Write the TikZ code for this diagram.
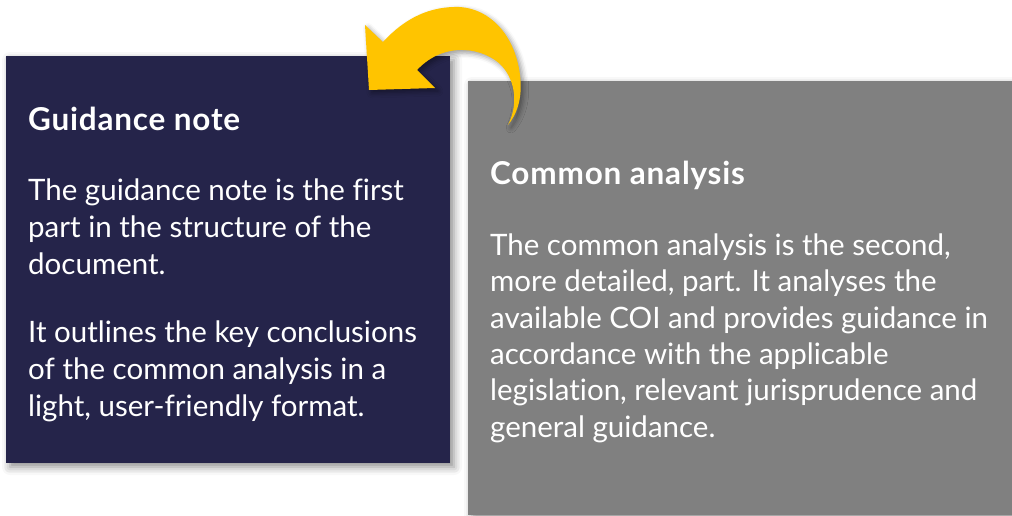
\documentclass[tikz,border=0pt]{standalone}
\usepackage{fontspec}
\setmainfont{Lato}[Ligatures=NoCommon]
\usetikzlibrary{shadows.blur}
\definecolor{navy}{HTML}{25244A}
\definecolor{boxgrey}{HTML}{808080}
\definecolor{arrowyellow}{HTML}{FFC400}
\tikzset{
  panel/.style={blur shadow={shadow xshift=4pt, shadow yshift=-4pt, shadow blur radius=8pt, shadow opacity=45}},
  headtxt/.style={anchor=base west, inner sep=0pt, text=white, font=\fontsize{31.5}{37}\selectfont\bfseries\addfontfeature{LetterSpace=2.5}},
  bodytxt/.style={anchor=base west, inner sep=0pt, text=white, font=\fontsize{29.5}{37}\selectfont},
}
\begin{document}
\begin{tikzpicture}[x=1pt,y=-1pt]
\useasboundingbox (0,0) rectangle (1012,515);
% boxes
\path[panel, fill=navy] (6,56) rectangle (450,463);
\path[panel, fill=boxgrey] (468,81) rectangle (1012,515);
% left text
\node[headtxt] (gh) at (28,130) {Guidance note};
\node[bodytxt] (g1) at (28,200) {The guidance note is the first};
\node[bodytxt] (g2) at (28,237) {part in the structure of the};
\node[bodytxt] (g3) at (28,274) {document.};
\node[bodytxt] (g4) at (28,342) {It outlines the key conclusions};
\node[bodytxt] (g5) at (28,379) {of the common analysis in a};
\node[bodytxt] (g6) at (28,416) {light, user-friendly format.};
% right text
\node[headtxt] (ch) at (490,184) {Common analysis};
\node[bodytxt] (c1) at (490,255) {The common analysis is the second,};
\node[bodytxt] (c2) at (490,291) {more detailed, part. It analyses the};
\node[bodytxt] (c3) at (490,328) {available COI and provides guidance in};
\node[bodytxt] (c4) at (490,364) {accordance with the applicable};
\node[bodytxt] (c5) at (490,400) {legislation, relevant jurisprudence and};
\node[bodytxt] (c6) at (490,437) {general guidance.};
% curved arrow
\path[fill=arrowyellow, blur shadow={shadow xshift=3pt, shadow yshift=-3pt, shadow blur radius=5pt, shadow opacity=40}]
  (369,90) -- (365,25) -- (383,42)
  .. controls (405,18) and (430,6) .. (460,7)
  .. controls (490,9) and (515,35) .. (520,75)
  .. controls (523,100) and (516,115) .. (508,125)
  .. controls (518,105) and (516,82) .. (502,66)
  .. controls (485,48) and (445,40) .. (417,70)
  -- (435,88) -- cycle;
\end{tikzpicture}
\end{document}
